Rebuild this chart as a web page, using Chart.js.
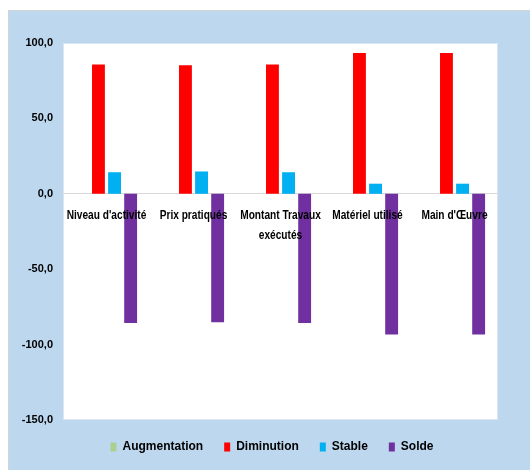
<!DOCTYPE html>
<html>
<head>
<meta charset="utf-8">
<script src="https://cdn.jsdelivr.net/npm/chart.js@4/dist/chart.umd.min.js"></script>
<style>
  html, body { margin: 0; padding: 0; background: #fff; }
  #wrap { width: 530px; height: 470px; }
</style>
</head>
<body>
<div id="wrap"><canvas id="chart"></canvas></div>
<script>
// Données
const categories = ["Niveau d'activité", 'Prix pratiqués', ['Montant Travaux', 'exécutés'], 'Matériel utilisé', "Main d'Œuvre"];
const augmentation = [0, 0, 0, 0, 0];
const diminution = [85.7, 85.2, 85.7, 93.3, 93.3];
const stable = [14.3, 14.8, 14.3, 6.7, 6.7];
const solde = [-85.7, -85.2, -85.7, -93.3, -93.3];
const yTicks = [-150, -100, -50, 0, 50, 100];

const FONT = "'Liberation Sans', Arial, sans-serif";

// fond bleu + zone de tracé blanche
const fondPlugin = {
  id: 'fond',
  beforeDraw(chart) {
    const ctx = chart.ctx;
    const a = chart.chartArea;
    ctx.save();
    ctx.fillStyle = '#ffffff';
    ctx.fillRect(0, 0, chart.width, chart.height);
    ctx.fillStyle = '#bdd7ee';
    ctx.fillRect(8, 10, chart.width - 8, chart.height - 10);
    ctx.strokeStyle = '#d4d4d4';
    ctx.lineWidth = 1;
    ctx.beginPath();
    ctx.moveTo(8.5, chart.height);
    ctx.lineTo(8.5, 10.5);
    ctx.lineTo(chart.width, 10.5);
    ctx.stroke();
    ctx.fillStyle = '#ffffff';
    ctx.fillRect(a.left, a.top, a.right - a.left, a.bottom - a.top);
    ctx.strokeStyle = '#dce6f2';
    ctx.strokeRect(a.left + 0.5, a.top + 0.5, a.right - a.left - 1, a.bottom - a.top - 1);
    ctx.restore();
  }
};

// étiquettes des catégories, en police étroite, par-dessus les barres
const etiquettesPlugin = {
  id: 'etiquettes',
  afterDatasetsDraw(chart) {
    const ctx = chart.ctx;
    const xs = chart.scales.x;
    const y0 = chart.scales.y.getPixelForValue(0);
    ctx.save();
    ctx.font = 'bold 13px ' + FONT;
    ctx.fillStyle = '#000';
    ctx.textAlign = 'center';
    ctx.textBaseline = 'middle';
    categories.forEach((lab, i) => {
      const lines = Array.isArray(lab) ? lab : [lab];
      const x = xs.getPixelForTick(i);
      lines.forEach((t, j) => {
        ctx.save();
        ctx.translate(x, y0 + 22 + j * 20);
        ctx.scale(0.78, 1);
        ctx.fillText(t, 0, 0);
        ctx.restore();
      });
    });
    ctx.restore();
  }
};

new Chart(document.getElementById('chart'), {
  type: 'bar',
  data: {
    labels: categories,
    datasets: [
      { label: 'Augmentation', data: augmentation, backgroundColor: '#a9d08e' },
      { label: 'Diminution', data: diminution, backgroundColor: '#ff0000' },
      { label: 'Stable', data: stable, backgroundColor: '#00b0f0' },
      { label: 'Solde', data: solde, backgroundColor: '#7030a0' }
    ]
  },
  options: {
    responsive: true,
    maintainAspectRatio: false,
    animation: false,
    layout: { padding: { top: 43, right: 0, left: 14, bottom: 7 } },
    datasets: { bar: { barPercentage: 0.8, categoryPercentage: 0.74 } },
    scales: {
      x: {
        position: { y: 0 },
        grid: { display: false, drawTicks: false },
        border: { display: true, color: '#d9d9d9', width: 1 },
        ticks: { display: false }
      },
      y: {
        min: -150, max: 100,
        afterBuildTicks(scale) { scale.ticks = yTicks.map(v => ({ value: v })); },
        afterFit(scale) { scale.width = 49; },
        grid: { display: false, drawTicks: false },
        border: { display: false },
        ticks: {
          color: '#000', padding: 10,
          font: { family: FONT, size: 11, weight: 'bold' },
          callback: v => v.toFixed(1).replace('.', ',')
        }
      },
      // marge droite (axe vide)
      y2: {
        position: 'right',
        min: -150, max: 100,
        afterFit(scale) { scale.width = 32; },
        grid: { display: false, drawTicks: false },
        border: { display: false },
        ticks: { display: false }
      }
    },
    plugins: {
      legend: {
        position: 'bottom',
        labels: {
          color: '#000', boxWidth: 6, boxHeight: 9, padding: 21,
          font: { family: FONT, size: 12, weight: 'bold' }
        }
      },
      tooltip: { enabled: false }
    }
  },
  plugins: [fondPlugin, etiquettesPlugin]
});
</script>
</body>
</html>
